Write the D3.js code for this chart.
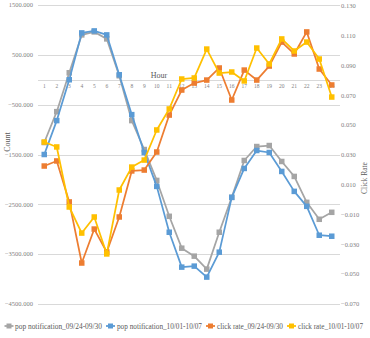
<!DOCTYPE html>
<html><head><meta charset="utf-8">
<script src="https://cdn.jsdelivr.net/npm/d3@7"></script>
<style>html,body{margin:0;padding:0;background:#fff;}</style>
</head><body>
<svg id="c" width="370" height="338"></svg>
<script>
const hours = d3.range(1, 25).map(String);
const popA = [-1260,-640,140,900,960,820,80,-820,-1400,-2020,-2740,-3380,-3540,-3800,-3060,-2360,-1620,-1340,-1320,-1640,-1940,-2460,-2800,-2660];
const popB = [-1500,-820,0,940,980,900,100,-700,-1460,-2140,-3060,-3760,-3740,-3960,-3460,-2360,-1780,-1420,-1460,-1840,-2240,-2540,-3120,-3140];
const rateA = [0.0226,0.0260,-0.0015,-0.0425,-0.0197,-0.0351,-0.0116,0.0193,0.0199,0.0320,0.0568,0.0736,0.0783,0.0803,0.0884,0.0669,0.0870,0.0803,0.0897,0.1058,0.0978,0.1126,0.0877,0.0770];
const rateB = [0.0387,0.0354,-0.0049,-0.0224,-0.0116,-0.0364,0.0065,0.0219,0.0266,0.0468,0.0609,0.0810,0.0817,0.1011,0.0850,0.0857,0.0797,0.1018,0.0911,0.1079,0.0998,0.1058,0.0944,0.0689];
const leftTicks = [1500,500,-500,-1500,-2500,-3500,-4500];
const rightTicks = [0.130,0.110,0.090,0.070,0.050,0.030,0.010,-0.010,-0.030,-0.050,-0.070];
const seriesNames = ["pop notification_09/24-09/30","pop notification_10/01-10/07","click rate_09/24-09/30","click rate_10/01-10/07"];
const colors = ["#A5A5A5","#5B9BD5","#ED7D31","#FFC000"];

const svg = d3.select("#c");
const font = "'Liberation Serif','Times New Roman',serif";
const x0 = 38, x1 = 338;
const x = d3.scaleBand().domain(hours).range([x0, x1]);
const yL = d3.scaleLinear().domain([-4500, 1500]).range([304, 5]);
const yR = d3.scaleLinear().domain([-0.070, 0.130]).range([304, 6]);

// gridlines
svg.append("g").selectAll("line").data(leftTicks).join("line")
  .attr("x1", x0).attr("x2", x1 + 2)
  .attr("y1", d => Math.round(yL(d)) + 0.5).attr("y2", d => Math.round(yL(d)) + 0.5)
  .attr("stroke", "#D9D9D9").attr("stroke-width", 1);
// zero axis
svg.append("line").attr("x1", x0).attr("x2", x1 + 2)
  .attr("y1", Math.round(yL(0)) + 0.5).attr("y2", Math.round(yL(0)) + 0.5)
  .attr("stroke", "#D9D9D9").attr("stroke-width", 1);

// left tick labels
svg.append("g").selectAll("text").data(leftTicks).join("text")
  .attr("x", 33).attr("y", d => yL(d) + 2.2)
  .attr("text-anchor", "end").attr("font-family", font).attr("font-size", 6.5)
  .attr("fill", "#7F7F7F").text(d => d3.format(".3f")(d));
// right tick labels
svg.append("g").selectAll("text").data(rightTicks).join("text")
  .attr("x", 341).attr("y", d => yR(d) + 2.2)
  .attr("text-anchor", "start").attr("font-family", font).attr("font-size", 6.5)
  .attr("fill", "#7F7F7F").text(d => d3.format(".3f")(d));
// hour labels
svg.append("g").selectAll("text").data(hours).join("text")
  .attr("x", d => x(d) + x.bandwidth() / 2).attr("y", yL(0) + 8)
  .attr("text-anchor", "middle").attr("font-family", font).attr("font-size", 5.5)
  .attr("fill", "#7F7F7F").text(d => d);
// Hour title
svg.append("text").attr("x", 159).attr("y", 78).attr("text-anchor", "middle")
  .attr("font-family", font).attr("font-size", 8).attr("fill", "#595959").text("Hour");
// axis titles
svg.append("text").attr("transform", "translate(10,142) rotate(-90)").attr("text-anchor", "middle")
  .attr("font-family", font).attr("font-size", 8).attr("fill", "#595959").text("Count");
svg.append("text").attr("transform", "translate(367,178) rotate(-90)").attr("text-anchor", "middle")
  .attr("font-family", font).attr("font-size", 7.5).attr("fill", "#595959").text("Click Rate");

const data = [popA, popB, rateA, rateB];
const scales = [yL, yL, yR, yR];
data.forEach((vals, i) => {
  const ys = scales[i];
  const pts = vals.map((v, j) => [x(hours[j]) + x.bandwidth() / 2, ys(v)]);
  svg.append("path").attr("d", d3.line()(pts)).attr("fill", "none")
    .attr("stroke", colors[i]).attr("stroke-width", 1.75).attr("stroke-linejoin", "round");
  svg.append("g").selectAll("rect").data(pts).join("rect")
    .attr("x", d => d[0] - 2.75).attr("y", d => d[1] - 2.75).attr("width", 5.5).attr("height", 5.5)
    .attr("fill", colors[i]);
});

// legend
const lgMarker = [9, 110.5, 210.5, 291.5];
const lgText = [15, 117, 217, 298];
const lgW = [87, 85, 66, 65];
const ly = 326;
seriesNames.forEach((n, i) => {
  svg.append("line").attr("x1", lgMarker[i] - 4.5).attr("x2", lgMarker[i] + 4.5)
    .attr("y1", ly).attr("y2", ly).attr("stroke", colors[i]).attr("stroke-width", 1.75);
  svg.append("rect").attr("x", lgMarker[i] - 2.5).attr("y", ly - 2.5).attr("width", 5).attr("height", 5).attr("fill", colors[i]);
  svg.append("text").attr("x", lgText[i]).attr("y", ly + 2.5).attr("font-family", font)
    .attr("font-size", 7.5).attr("fill", "#595959")
    .attr("textLength", lgW[i]).attr("lengthAdjust", "spacingAndGlyphs").text(n);
});
</script>
</body></html>
